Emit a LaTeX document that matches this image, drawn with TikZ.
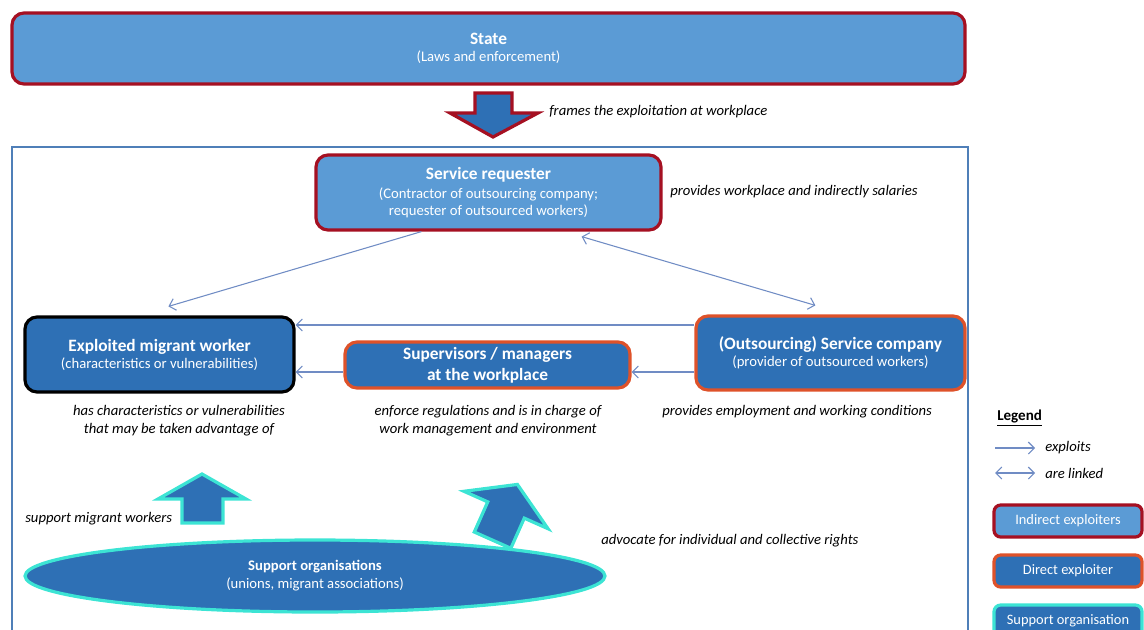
\documentclass[tikz,border=0pt]{standalone}
\usepackage{fontspec}
\setmainfont{Carlito}
\usetikzlibrary{arrows.meta,shapes.geometric,calc}
\newdimen\ux \ux=0.75pt
\definecolor{lightblue}{RGB}{91,155,213}
\definecolor{darkblue}{RGB}{46,112,181}
\definecolor{darkred}{RGB}{165,16,34}
\definecolor{orangered}{RGB}{222,82,42}
\definecolor{aqua}{RGB}{60,228,212}
\definecolor{framec}{RGB}{79,127,184}
\definecolor{linkc}{RGB}{112,140,196}
\begin{document}
\begin{tikzpicture}[x=0.75pt,y=-0.75pt,
  box/.style={rounded corners=9pt, line width=2.4pt, text=white, align=center,
    inner sep=0pt, font=\fontsize{11}{12.8}\selectfont},
  indirect/.style={box, fill=lightblue, draw=darkred},
  direct/.style={box, fill=darkblue, draw=orangered},
  victim/.style={box, fill=darkblue, draw=black},
  supportorg/.style={ellipse, fill=darkblue, draw=aqua, line width=2.4pt, text=white,
    align=center, inner sep=0pt, font=\fontsize{11}{13.5}\selectfont},
  legbox/.style={rounded corners=5pt, line width=2.4pt, text=white, inner sep=0pt,
    minimum width=148\ux, minimum height=32\ux, font=\fontsize{10.8}{12}\selectfont},
  exploit/.style={draw=linkc, line width=0.8pt, -{Straight Barb[length=4.5pt,width=9pt]}},
  linked/.style={draw=linkc, line width=0.8pt,
    {Straight Barb[length=4.5pt,width=9pt]}-{Straight Barb[length=4.5pt,width=9pt]}},
  lbl/.style={font=\itshape\fontsize{11}{13.5}\selectfont, align=center, inner sep=0pt},
  blockarrow/.style={fill=darkblue, line width=2.4pt, line join=miter},
  ttl/.style={font=\bfseries\fontsize{13}{15}\selectfont}]
\useasboundingbox (0,0) rectangle (1144,629);

% workplace frame
\draw[framec, line width=1.3pt] (12,147) rectangle (968,660);

% state
\node[indirect, minimum width=953\ux, minimum height=71\ux] (state) at (488.5,48.5)
  {{\bfseries\fontsize{13}{14}\selectfont State}\\(Laws and enforcement)};

% arrow from the state into the workplace
\filldraw[blockarrow, draw=darkred] (475,93) -- (512,93) -- (512,113) -- (538,113)
  -- (493,137) -- (450,113) -- (475,113) -- cycle;
\node[lbl, anchor=west] (frames) at (549,112) {frames the exploitation at workplace};

% actors
\node[indirect, minimum width=345\ux, minimum height=75\ux] (req) at (488.5,192.5)
  {{\bfseries\fontsize{13}{15}\selectfont Service requester}\\[1pt]
   (Contractor of outsourcing company;\\requester of outsourced workers)};
\node[lbl, anchor=west] (reqlbl) at (670,192) {provides workplace and indirectly salaries};

\node[victim, minimum width=269\ux, minimum height=75\ux] (worker) at (159.5,354.5)
  {{\bfseries\fontsize{13}{15}\selectfont Exploited migrant worker}\\(characteristics or vulnerabilities)};
\node[direct, minimum width=285\ux, minimum height=46\ux, font=\bfseries\fontsize{13}{16}\selectfont]
  (sup) at (487.5,365) {Supervisors / managers\\at the workplace};
\node[direct, minimum width=269\ux, minimum height=74\ux] (comp) at (830.5,353)
  {{\bfseries\fontsize{13}{15}\selectfont (Outsourcing) Service company}\\(provider of outsourced workers)};

\node[lbl] (workerlbl) at (179,421) {has characteristics or vulnerabilities\\that may be taken advantage of};
\node[lbl] (suplbl) at (488,421) {enforce regulations and is in charge of\\work management and environment};
\node[lbl, anchor=west] (complbl) at (662,412) {provides employment and working conditions};

% relations
\draw[exploit] ([xshift=107\ux]req.south west) -- ([xshift=145\ux,yshift=9\ux]worker.north west);
\draw[linked] ([xshift=-81\ux,yshift=-5\ux]req.south east) -- ([xshift=121\ux,yshift=9\ux]comp.north west);
\draw[exploit] ([yshift=28\ux]comp.west) -- ([yshift=28\ux]comp.west -| worker.east);
\draw[exploit] ([yshift=-19\ux]comp.west) -- ([yshift=-19\ux]comp.west -| sup.east);
\draw[exploit] ([yshift=-7\ux]sup.west) -- ([yshift=-7\ux]sup.west -| worker.east);

% support organisations
\node[supportorg, minimum width=580\ux, minimum height=72\ux] (org) at (315,576)
  {{\bfseries Support organisations}\\(unions, migrant associations)};
\filldraw[blockarrow, draw=aqua] (182,523) -- (223,523) -- (223,499) -- (246,499)
  -- (202,474) -- (158,499) -- (182,499) -- cycle;
\begin{scope}[shift={(506,510)}, rotate=-24]
  \filldraw[blockarrow, draw=aqua] (-20,33) -- (20,33) -- (20,0) -- (46,0)
    -- (0,-28) -- (-46,0) -- (-20,0) -- cycle;
\end{scope}
\node[lbl, anchor=west] (orglbl1) at (25,519) {support migrant workers};
\node[lbl, anchor=west] (orglbl2) at (601,541) {advocate for individual and collective rights};

% legend
\node[anchor=west, inner sep=0pt, font=\bfseries\fontsize{11.3}{13}\selectfont] (legend)
  at (997,418) {\underline{Legend}};
\coordinate (la) at (995,448);
\coordinate (lb) at (1035,448);
\coordinate (lc) at (995,473);
\coordinate (ld) at (1035,473);
\draw[exploit] (la) -- (lb);
\draw[linked] (lc) -- (ld);
\node[lbl, anchor=west] (lexp) at (1045,448) {exploits};
\node[lbl, anchor=west] (llink) at (1045,473) {are linked};
\node[legbox, fill=lightblue, draw=darkred] (lind) at (1068,521) {Indirect exploiters};
\node[legbox, fill=darkblue, draw=orangered] (ldir) at (1068,571) {Direct exploiter};
\node[legbox, fill=darkblue, draw=aqua] (lsup) at (1068,621) {Support organisation};
\end{tikzpicture}
\end{document}
